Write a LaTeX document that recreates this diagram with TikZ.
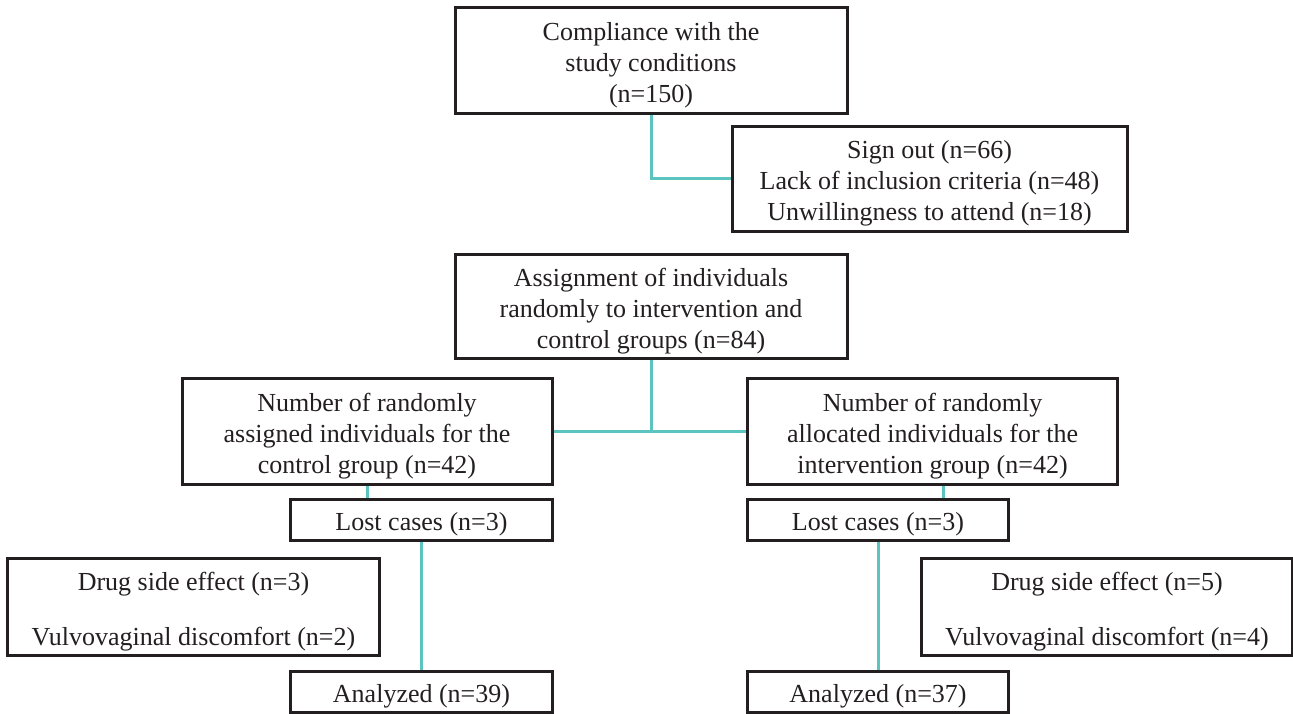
\documentclass[tikz,border=0pt]{standalone}
\usepackage{fontspec}
\setmainfont{Liberation Serif}
\usetikzlibrary{calc}
\definecolor{boxline}{HTML}{231F20}
\definecolor{teal1}{HTML}{5BC4BF}
\begin{document}
\begin{tikzpicture}[x=0.5pt,y=-0.5pt,
  box/.style={draw=boxline,line width=1.5pt,inner sep=0pt},
  txt/.style={align=center,text=boxline,font=\fontsize{13}{15.5}\selectfont,inner sep=0pt,yshift=-2.5pt},
  link/.style={draw=teal1,line width=1.5pt}]
\useasboundingbox (0,0) rectangle (1293,713);
\node[box,minimum width=196pt,minimum height=53pt] (c1) at (651,60) {};
\node[txt] (t1) at (c1) {Compliance with the\\study conditions\\(n=150)};
\node[box,minimum width=197.5pt,minimum height=52.5pt] (c2) at (929.5,178.5) {};
\node[txt] (t2) at (c2) {Sign out (n=66)\\Lack of inclusion criteria (n=48)\\Unwillingness to attend (n=18)};
\node[box,minimum width=196pt,minimum height=52pt] (c3) at (651,306) {};
\node[txt] (t3) at (c3) {Assignment of individuals\\randomly to intervention and\\control groups (n=84)};
\node[box,minimum width=185pt,minimum height=53pt] (c4) at (367,431) {};
\node[txt] (t4) at (c4) {Number of randomly\\assigned individuals for the\\control group (n=42)};
\node[box,minimum width=185pt,minimum height=53pt] (c5) at (932.5,431) {};
\node[txt] (t5) at (c5) {Number of randomly\\allocated individuals for the\\intervention group (n=42)};
\node[box,minimum width=131pt,minimum height=20.5pt] (c6) at (421.5,519.5) {};
\node[txt] (t6) at (c6) {Lost cases (n=3)};
\node[box,minimum width=130.5pt,minimum height=20.5pt] (c7) at (878,519.5) {};
\node[txt] (t7) at (c7) {Lost cases (n=3)};
\node[box,minimum width=186pt,minimum height=48.5pt] (c8) at (193.5,606.5) {};
\node[txt] (t8) at (c8) {Drug side effect (n=3)\\[12pt]Vulvovaginal discomfort (n=2)};
\node[box,minimum width=131pt,minimum height=20.5pt] (c9) at (421.5,691.5) {};
\node[txt] (t9) at (c9) {Analyzed (n=39)};
\node[box,minimum width=185.5pt,minimum height=48.5pt] (c10) at (1107,606.5) {};
\node[txt] (t10) at (c10) {Drug side effect (n=5)\\[12pt]Vulvovaginal discomfort (n=4)};
\node[box,minimum width=130.5pt,minimum height=20.5pt] (c11) at (878,691.5) {};
\node[txt] (t11) at (c11) {Analyzed (n=37)};
\draw[link] (c1.south) |- (c2.west);
\draw[link] (c4.east) -- (c5.west);
\draw[link] (c3.south) -- (c3.south |- c4.east);
\draw[link] (c4.south) -- (c4.south |- c6.north);
\coordinate (r5) at ($(c5.south)+(10.5,0)$);
\draw[link] (r5) -- (r5 |- c7.north);
\draw[link] (c6.south) -- (c9.north);
\draw[link] (c7.south) -- (c11.north);
\end{tikzpicture}
\end{document}
